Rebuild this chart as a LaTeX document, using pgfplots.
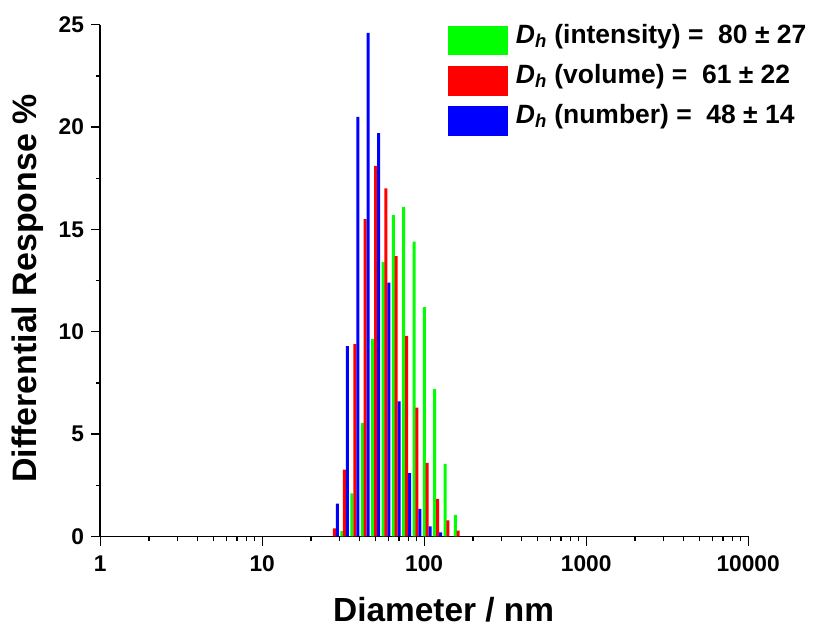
\documentclass[border=0pt]{standalone}
\usepackage{fontspec}
\setmainfont{Liberation Sans}
\usepackage{pgfplots}
\pgfplotsset{compat=1.18}
\definecolor{cgreen}{RGB}{0,255,0}
\definecolor{cred}{RGB}{255,0,0}
\definecolor{cblue}{RGB}{0,0,255}
\begin{document}
\begin{tikzpicture}
\begin{axis}[
  scale only axis, width=485pt, height=383pt,
  xmode=log, xmin=1, xmax=10000, ymin=0, ymax=25,
  axis x line*=bottom, axis y line*=left,
  axis line style={line width=1.1pt},
  xtick={1,10,100,1000,10000},
  xticklabels={1,10,100,1000,10000},
  ytick={0,5,10,15,20,25},
  minor y tick num=1,
  tick align=outside,
  major tick length=7pt, minor tick length=3.5pt,
  every tick/.style={line width=1pt, black},
  tick label style={font=\fontsize{17}{17}\selectfont\bfseries, inner sep=0pt},
  xticklabel style={yshift=-7.5pt},
  yticklabel style={xshift=-5pt},
  /pgf/number format/assume math mode=true,
  xlabel={Diameter / nm}, ylabel={Differential Response \%},
  xlabel style={font=\fontsize{25}{25}\selectfont\bfseries, inner sep=0pt, yshift=-18.5pt, xshift=14.6pt},
  ylabel style={font=\fontsize{25.4}{25.4}\selectfont\bfseries, inner sep=0pt, yshift=11pt, xshift=-6pt},
  legend style={at={(rel axis cs:0.536,0.998)}, anchor=north west, draw=none, fill=none,
    inner sep=0pt, font=\fontsize{19.8}{19.8}\selectfont\bfseries, row sep=8pt, column sep=6pt,
    nodes={inner sep=0pt, text height=13pt, text depth=9pt},
    cells={anchor=west}},
  legend image code/.code={\fill[#1,draw=none] (0pt,-11pt) rectangle (45pt,11pt);},
]
\addplot[ybar, bar width=2.3pt, bar shift=0pt, fill=cgreen, draw=none] coordinates {
(31.04,0.26) (35.8,2.1) (41.5,5.55) (48.1,9.65) (55.8,13.4) (64.5,15.7) (74.7,16.1)
(86.6,14.4) (100.3,11.2) (116.1,7.2) (134.6,3.55) (155.9,1.06)};
\addlegendentry{\textit{D}\textsubscript{\textit{h}} (intensity) =\ \ 80 ± 27}
\addplot[ybar, bar width=2.3pt, bar shift=0pt, fill=cred, draw=none] coordinates {
(27.9,0.4) (32.16,3.26) (37.33,9.4) (43.2,15.5) (50.1,18.1) (58.0,17.0) (67.1,13.7)
(77.9,9.8) (90.1,6.3) (104.3,3.6) (121.0,1.84) (140.1,0.78) (162.2,0.29)};
\addlegendentry{\textit{D}\textsubscript{\textit{h}} (volume) =\ \ 61 ± 22}
\addplot[ybar, bar width=2.3pt, bar shift=0pt, fill=cblue, draw=none] coordinates {
(29.12,1.6) (33.57,9.3) (38.97,20.5) (45.11,24.6) (52.31,19.7) (60.55,12.4) (70.09,6.6)
(81.27,3.1) (94.08,1.35) (108.9,0.49) (126.3,0.2)};
\addlegendentry{\textit{D}\textsubscript{\textit{h}} (number) =\ \ 48 ± 14}
\end{axis}
\path (current bounding box.south west) ++(-9pt,-7.5pt);
\path (current bounding box.north east) ++(5pt,12.5pt);
\end{tikzpicture}
\end{document}
